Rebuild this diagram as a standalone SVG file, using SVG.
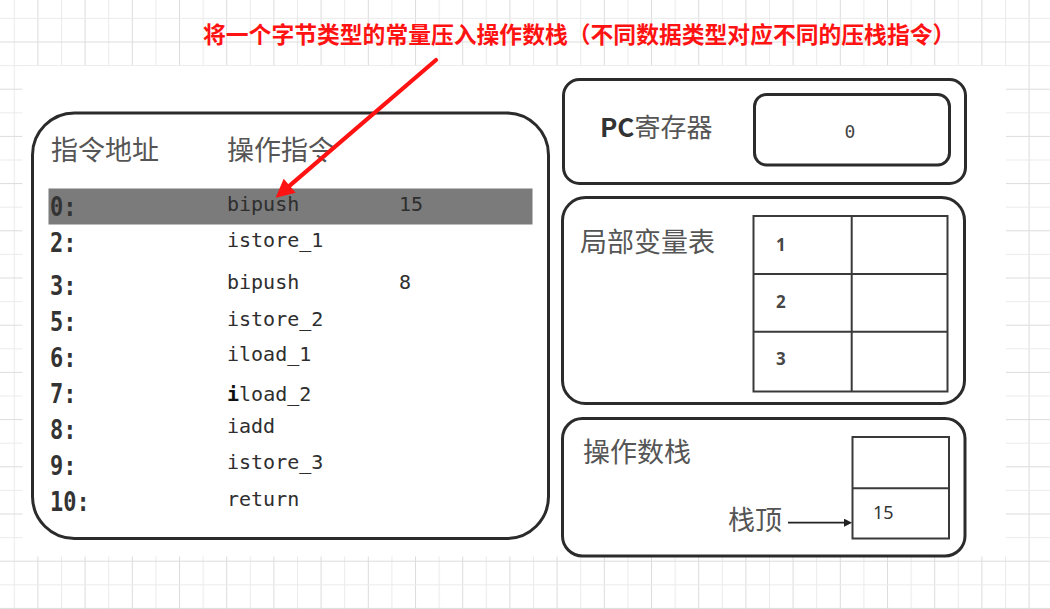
<svg xmlns="http://www.w3.org/2000/svg" width="1050" height="609" viewBox="0 0 1050 609">
  <style>
    .panel { fill: #ffffff; stroke: #2b2b2b; stroke-width: 3; }
    .cell { fill: #ffffff; stroke: #3a3a3a; stroke-width: 2; }
    .cjk { font-family: "Noto Sans CJK SC", "Noto Sans", sans-serif; font-size: 27px; fill: #555555; }
    .addr { font-family: "DejaVu Sans Mono", "Liberation Mono", monospace; font-size: 22px; font-weight: bold; fill: #333333; }
    .op { font-family: "DejaVu Sans Mono", "Liberation Mono", monospace; font-size: 20px; fill: #2e2e2e; }
    .num { font-family: "Noto Sans", "DejaVu Sans", sans-serif; font-size: 17px; font-weight: bold; fill: #474747; }
    .title { font-family: "Noto Sans CJK SC", "Noto Sans", sans-serif; font-size: 22.8px; font-weight: bold; fill: #ff1212; }
  </style>
  <defs>
    <pattern id="grid" patternUnits="userSpaceOnUse" x="13.8" y="17.9" width="47.2" height="47.2">
      <rect width="47.2" height="47.2" fill="#ffffff"/>
      <line x1="0.5" y1="0" x2="0.5" y2="47.2" stroke="#ebebeb" stroke-width="1"/>
      <line x1="24.1" y1="0" x2="24.1" y2="47.2" stroke="#dcdcdc" stroke-width="1"/>
      <line x1="0" y1="0.5" x2="47.2" y2="0.5" stroke="#ebebeb" stroke-width="1"/>
      <line x1="0" y1="24.1" x2="47.2" y2="24.1" stroke="#dcdcdc" stroke-width="1"/>
    </pattern>
    <marker id="redHead" viewBox="0 0 10 10" refX="0" refY="5" markerWidth="5.2" markerHeight="4.4" orient="auto" markerUnits="strokeWidth">
      <path d="M0,0 L10,5 L0,10 Z" fill="#ff1212"/>
    </marker>
    <marker id="blackHead" viewBox="0 0 10 10" refX="0" refY="5" markerWidth="5" markerHeight="4.5" orient="auto" markerUnits="strokeWidth">
      <path d="M0,0 L10,5 L0,10 Z" fill="#222222"/>
    </marker>
  </defs>

  <!-- page grid and the white sheet on top of it -->
  <rect width="1050" height="609" fill="url(#grid)"/>
  <rect x="22.5" y="66" width="983.5" height="490.5" fill="#ffffff"/>

  <!-- bytecode listing -->
  <g id="bytecode">
    <rect class="panel" x="32.5" y="113" width="516" height="425.5" rx="42" ry="42"/>
    <text class="cjk" x="51" y="160">指令地址</text>
    <text class="cjk" x="227" y="160">操作指令</text>
    <rect x="48.5" y="188.5" width="484" height="36" fill="#7b7b7b"/>
    <text class="addr" transform="translate(50,216) scale(1,1.2)">0:</text>
    <text class="op" x="227" y="211">bipush</text>
    <text class="op" x="399" y="211">15</text>
    <text class="addr" transform="translate(50,252) scale(1,1.2)">2:</text>
    <text class="op" x="227" y="247">istore_1</text>
    <text class="addr" transform="translate(50,295) scale(1,1.2)">3:</text>
    <text class="op" x="227" y="289">bipush</text>
    <text class="op" x="399" y="289">8</text>
    <text class="addr" transform="translate(50,331) scale(1,1.2)">5:</text>
    <text class="op" x="227" y="326">istore_2</text>
    <text class="addr" transform="translate(50,367) scale(1,1.2)">6:</text>
    <text class="op" x="227" y="361">iload_1</text>
    <text class="addr" transform="translate(50,403) scale(1,1.2)">7:</text>
    <text class="op" x="227" y="401"><tspan font-weight="bold" fill="#111111">i</tspan>load_2</text>
    <text class="addr" transform="translate(50,439) scale(1,1.2)">8:</text>
    <text class="op" x="227" y="433">iadd</text>
    <text class="addr" transform="translate(50,475) scale(1,1.2)">9:</text>
    <text class="op" x="227" y="469">istore_3</text>
    <text class="addr" transform="translate(50,511) scale(1,1.2)">10:</text>
    <text class="op" x="227" y="506">return</text>
  </g>

  <!-- program counter -->
  <g id="pc-register">
    <rect class="panel" x="563.5" y="79.5" width="402" height="104" rx="16" ry="16"/>
    <rect class="panel" x="754.5" y="94.5" width="195" height="70.5" rx="12" ry="12"/>
    <text class="cjk" x="600" y="137" style="font-size:26px"><tspan font-weight="bold" fill="#333333">PC</tspan>寄存器</text>
    <text class="op" x="850" y="138" text-anchor="middle" style="font-size:18px;fill:#444444">0</text>
  </g>

  <!-- local variable table -->
  <g id="local-variables">
    <rect class="panel" x="562.5" y="197.5" width="402" height="206" rx="23" ry="23"/>
    <text class="cjk" x="580" y="252">局部变量表</text>
    <rect class="cell" x="753.5" y="216" width="194" height="175.5"/>
    <line class="cell" x1="851.7" y1="216" x2="851.7" y2="391.5"/>
    <line class="cell" x1="753.5" y1="274" x2="947.5" y2="274"/>
    <line class="cell" x1="753.5" y1="331.7" x2="947.5" y2="331.7"/>
    <text class="num" x="776" y="251">1</text>
    <text class="num" x="776" y="308">2</text>
    <text class="num" x="776" y="365">3</text>
  </g>

  <!-- operand stack -->
  <g id="operand-stack">
    <rect class="panel" x="562.5" y="418.5" width="402.5" height="137.5" rx="20" ry="20"/>
    <text class="cjk" x="583" y="462">操作数栈</text>
    <text class="cjk" x="728" y="530">栈顶</text>
    <rect class="cell" x="852.5" y="437" width="96.5" height="101.5"/>
    <line class="cell" x1="852.5" y1="488.3" x2="949" y2="488.3"/>
    <text class="num" x="873" y="519" style="font-weight:normal;font-size:18px;fill:#333333">15</text>
  </g>

  <!-- annotation text -->
  <g id="annotation">
    <text class="title" x="203" y="43">将一个字节类型的常量压入操作数栈（不同数据类型对应不同的压栈指令）</text>
  </g>

  <!-- connectors -->
  <g id="connectors">
    <line x1="436" y1="60" x2="289.7" y2="185.7" stroke="#ff1212" stroke-width="4.2" stroke-linecap="round" marker-end="url(#redHead)"/>
    <line x1="788" y1="522.7" x2="844" y2="522.7" stroke="#222222" stroke-width="1.8" marker-end="url(#blackHead)"/>
  </g>
</svg>
